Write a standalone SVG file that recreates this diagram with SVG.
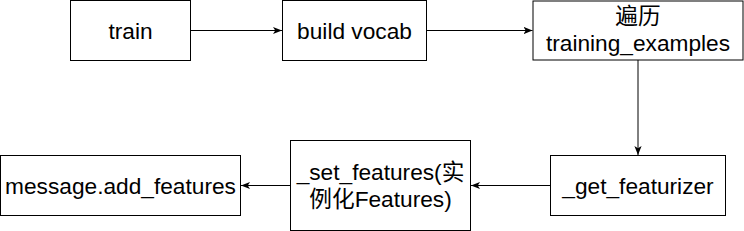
<svg xmlns="http://www.w3.org/2000/svg" width="744" height="231" viewBox="0 0 744 231">
<style>
.box{fill:#fff;stroke:#000;stroke-width:1}
.t{font-family:"Liberation Sans","Noto Sans CJK SC",Arial,sans-serif;font-size:22.7px;fill:#000;text-anchor:middle}
.c{fill:none;stroke:#000;stroke-width:1}
</style>
<defs>
<marker id="arr" viewBox="0 0 10 10" refX="10" refY="5" markerWidth="9" markerHeight="9" orient="auto" markerUnits="userSpaceOnUse">
<path d="M0,1 L10,5 L0,9 L2.5,5 Z" fill="#000"/>
</marker>
</defs>
<rect width="744" height="231" fill="#fff"/>
<g id="connectors">
<path class="c" d="M190.5,30.5 L282,30.5" marker-end="url(#arr)"/>
<path class="c" d="M426.5,30.5 L532.5,30.5" marker-end="url(#arr)"/>
<path class="c" d="M638,60 L638,155" marker-end="url(#arr)"/>
<path class="c" d="M550.5,185.5 L471,185.5" marker-end="url(#arr)"/>
<path class="c" d="M290.5,185.5 L241,185.5" marker-end="url(#arr)"/>
</g>
<g id="train">
<rect class="box" x="70.5" y="0.5" width="120" height="60"/>
<text class="t" x="130.5" y="38.5">train</text>
</g>
<g id="build-vocab">
<rect class="box" x="282.5" y="0.5" width="144" height="60"/>
<text class="t" x="354.5" y="38.5">build vocab</text>
</g>
<g id="traverse">
<rect class="box" x="533" y="1" width="210" height="59"/>
<text class="t" x="638" y="24">遍历</text>
<text class="t" x="638" y="51">training_examples</text>
</g>
<g id="get-featurizer">
<rect class="box" x="550.5" y="155.5" width="175" height="60"/>
<text class="t" x="638" y="193.5">_get_featurizer</text>
</g>
<g id="set-features">
<rect class="box" x="290.5" y="140.5" width="180" height="90"/>
<text class="t" x="380.5" y="179.5">_set_features(实</text>
<text class="t" x="380.5" y="206.5">例化Features)</text>
</g>
<g id="add-features">
<rect class="box" x="0.5" y="155.5" width="240" height="60"/>
<text class="t" x="120.5" y="193.5">message.add_features</text>
</g>
</svg>
